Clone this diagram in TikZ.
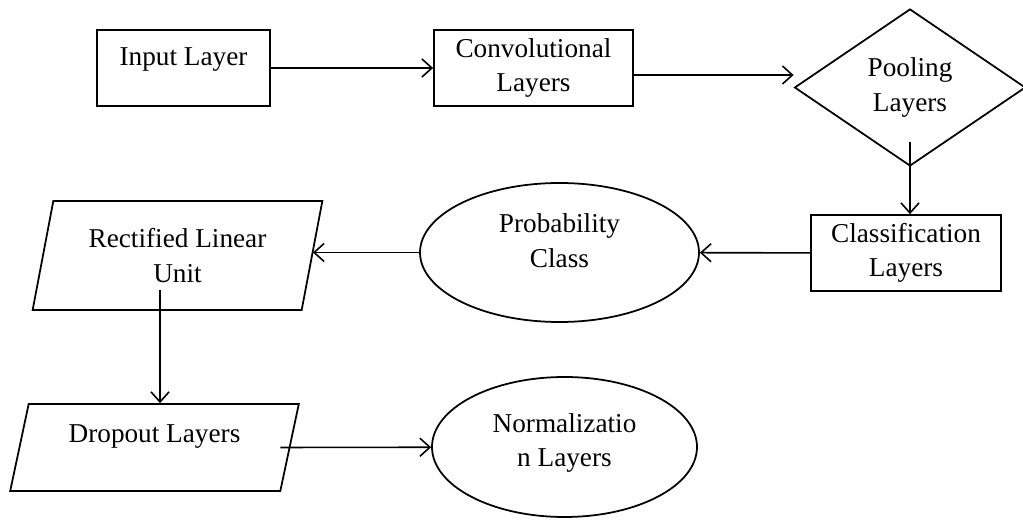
\documentclass[tikz,border=0pt]{standalone}
\usepackage{fontspec}
\setmainfont{Liberation Serif}
\usetikzlibrary{shapes.geometric,arrows.meta}

\tikzset{
  box/.style={draw, line width=1pt, align=center, font=\fontsize{15.5}{19.5}\selectfont},
  slant/.style={box, trapezium, trapezium left angle=74.6, trapezium right angle=105.4, trapezium stretches=true, inner sep=0pt},
  arr/.style={-{Straight Barb[length=2mm,width=3.6mm]}, line width=0.9pt}
}

\begin{document}
\begin{tikzpicture}
    \useasboundingbox[fill=white] (0,0) rectangle (20.46,-10.4);

    % Riga superiore
    \node[box, minimum width=3.46cm, minimum height=1.52cm, text depth=0.44cm] (inp) at (3.67,-1.36) {Input Layer};
    \node[box, minimum width=3.98cm, minimum height=1.52cm] (conv) at (10.67,-1.36) {Convolutional\\Layers};
    \node[box, diamond, minimum width=4.62cm, minimum height=3.14cm, inner sep=0pt] (pool) at (18.2,-1.75) {Pooling\\Layers};

    % Riga centrale
    \node[box, minimum width=3.8cm, minimum height=1.52cm] (cls) at (18.12,-5.06) {Classification\\Layers};
    \node[box, ellipse, minimum width=5.58cm, minimum height=2.78cm, text depth=0.48cm] (prob) at (11.19,-5.05) {Probability\\Class};
    \node[slant, minimum width=5.8cm, minimum height=2.18cm] (relu) at (3.55,-5.11) {Rectified Linear\\Unit};

    % Riga inferiore
    \node[slant, minimum width=5.78cm, minimum height=1.74cm, text depth=0.56cm] (drop) at (3.09,-8.95) {Dropout Layers};
    \node[box, ellipse, minimum width=5.3cm, minimum height=2.8cm, text depth=0.28cm] (norm) at (11.29,-8.94) {Normalizatio\\n Layers};

    % Frecce
    \draw[arr] (inp) -- (conv);
    \draw[arr] ([yshift=-0.14cm]conv.east) -- ([yshift=-0.14cm]conv.east -| pool.west);
    \draw[arr] ([yshift=0.5cm]pool.south) -- (pool.south |- cls.north);
    \draw[arr] (cls) -- (prob);
    \draw[arr] (prob.west) -- (prob.west -| relu.east);
    \draw[arr] ([xshift=-0.35cm,yshift=-0.69cm]relu.center) coordinate (r0) -- (r0 |- drop.north);
    \draw[arr] ([xshift=-0.2cm]drop.east) -- (norm);
\end{tikzpicture}
\end{document}
